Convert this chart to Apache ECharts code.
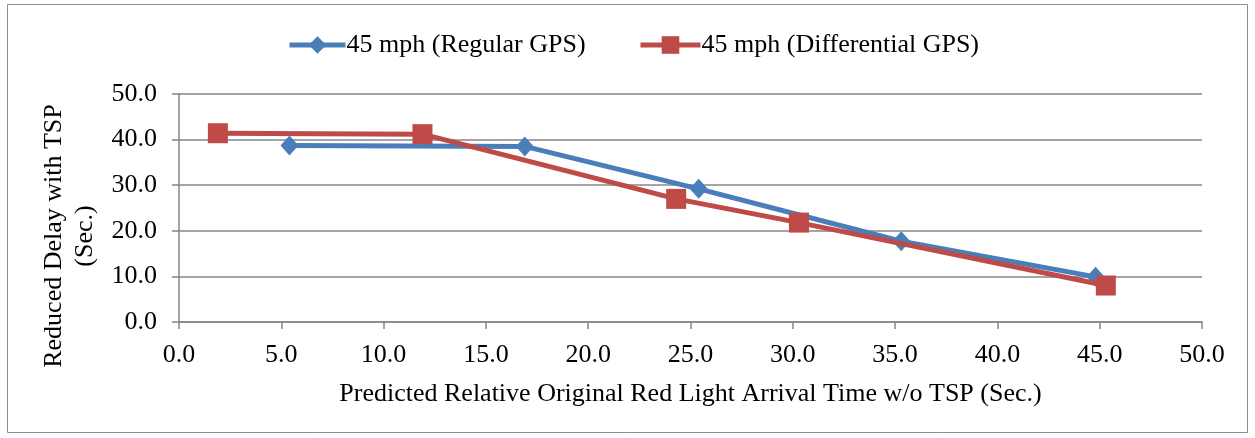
<!DOCTYPE html>
<html><head><meta charset="utf-8">
<script src="https://cdn.jsdelivr.net/npm/echarts@6/dist/echarts.min.js"></script>
<style>html,body{margin:0;padding:0;background:#fff}#c{width:1255px;height:438px}</style>
</head><body><div id="c"></div>
<script>
const seriesNames = ['45 mph (Regular GPS)', '45 mph (Differential GPS)'];
const regularX = [5.4, 16.9, 25.4, 35.3, 44.8];
const regularY = [38.7, 38.5, 29.2, 17.7, 9.9];
const diffX = [1.9, 11.9, 24.3, 30.3, 45.3];
const diffY = [41.4, 41.2, 27.0, 21.8, 8.0];
const xAxisTitle = 'Predicted Relative Original Red Light Arrival Time w/o TSP (Sec.)';
const yAxisTitle = 'Reduced Delay with TSP\n(Sec.)';

const font = 'Liberation Serif';
const fs = 26;
const pair = (xs, ys) => xs.map((x, i) => [x, ys[i]]);
const chart = echarts.init(document.getElementById('c'), null, {renderer: 'canvas'});
chart.setOption({
  animation: false,
  backgroundColor: '#fff',
  textStyle: {fontFamily: font},
  graphic: [{type: 'rect', shape: {x: 7.5, y: 4.5, width: 1240, height: 428}, style: {fill: null, stroke: '#8c8c8c', lineWidth: 1}, silent: true}],
  legend: [
    {data: [seriesNames[0]], left: 287, top: 32, padding: 0, itemWidth: 56, itemHeight: 22, itemGap: 4,
      lineStyle: {width: 5}, textStyle: {fontFamily: font, fontSize: fs, color: '#000', padding: [0,0,0,-4]}},
    {data: [seriesNames[1]], left: 638, top: 32, padding: 0, itemWidth: 60, itemHeight: 22,
      lineStyle: {width: 5}, textStyle: {fontFamily: font, fontSize: fs, color: '#000', padding: [0,0,0,-4]}}
  ],
  grid: {left: 179, right: 53, top: 94, bottom: 116, containLabel: false},
  xAxis: {
    type: 'value', min: 0, max: 50, interval: 5,
    name: xAxisTitle, nameLocation: 'middle', nameGap: 59,
    nameTextStyle: {fontFamily: font, fontSize: fs, color: '#000'},
    axisLine: {show: true, lineStyle: {color: '#868686', width: 1.5}},
    axisTick: {show: true, length: 7, lineStyle: {color: '#868686', width: 1.5}},
    axisLabel: {formatter: v => v.toFixed(1), fontFamily: font, fontSize: fs, color: '#000', margin: 20},
    splitLine: {show: false}
  },
  yAxis: {
    type: 'value', min: 0, max: 50, interval: 10,
    name: yAxisTitle, nameLocation: 'middle', nameGap: 75, nameRotate: 90,
    nameTextStyle: {fontFamily: font, fontSize: fs, color: '#000', lineHeight: 31, padding: [0, 56, 0, 0]},
    axisLine: {show: true, lineStyle: {color: '#868686', width: 1.5}},
    axisTick: {show: true, length: 7, lineStyle: {color: '#868686', width: 1.5}},
    axisLabel: {formatter: v => v.toFixed(1), fontFamily: font, fontSize: fs, color: '#000', margin: 22},
    splitLine: {show: true, lineStyle: {color: '#868686', width: 1.5}}
  },
  series: [
    {name: seriesNames[0], type: 'line', data: pair(regularX, regularY),
      symbol: 'diamond', symbolSize: [18, 20], color: '#4a7ebb',
      lineStyle: {width: 5, color: '#4a7ebb'}, itemStyle: {color: '#4a7ebb'}, z: 2},
    {name: seriesNames[1], type: 'line', data: pair(diffX, diffY),
      symbol: 'rect', symbolSize: 20, color: '#be4b48',
      lineStyle: {width: 5, color: '#be4b48'}, itemStyle: {color: '#be4b48'}, z: 3}
  ]
});
</script></body></html>
